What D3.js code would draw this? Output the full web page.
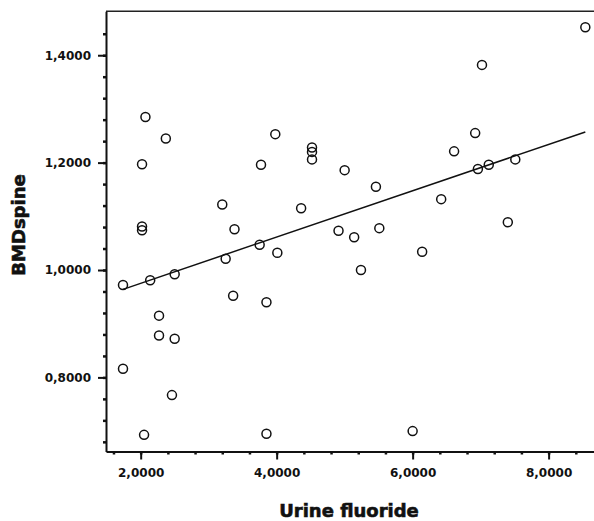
<!DOCTYPE html>
<meta charset="utf-8">
<style>
body { margin: 0; background: #fff; }
svg { display: block; }
.tick text { font-family: "DejaVu Sans", sans-serif; font-weight: bold; font-size: 12px; fill: #111; }
.axis-title { font-family: "DejaVu Sans", sans-serif; font-weight: bold; font-size: 18px; fill: #111; stroke: #111; stroke-width: 0.6px; }
</style>
<svg width="594" height="521"></svg>
<script src="https://d3js.org/d3.v7.min.js"></script>
<script>

// urine fluoride (x) and BMD spine (y)
var fluoride = [1.74, 1.74, 2.14, 2.50, 2.27, 2.27, 2.50, 2.46, 2.05, 2.07, 2.37, 2.02, 2.02, 2.02,
  3.98, 3.77, 4.52, 4.52, 4.52, 5.00, 5.46, 3.20, 4.36, 3.38, 3.75, 3.25, 4.01, 4.91, 5.14, 5.51,
  5.24, 3.36, 3.85, 3.85, 6.00, 6.14, 8.54, 7.02, 6.92, 6.61, 6.96, 7.12, 7.51, 6.42, 7.40];
var bmdSpine = [0.816, 0.972, 0.981, 0.992, 0.915, 0.878, 0.872, 0.767, 0.693, 1.285, 1.245, 1.197, 1.081, 1.074,
  1.253, 1.196, 1.228, 1.220, 1.206, 1.186, 1.155, 1.122, 1.115, 1.076, 1.047, 1.021, 1.032, 1.073, 1.061, 1.078,
  1.000, 0.952, 0.940, 0.695, 0.700, 1.034, 1.452, 1.382, 1.255, 1.221, 1.188, 1.196, 1.206, 1.132, 1.089];

// fitted line, as drawn
var fitIntercept = 0.889;
var fitSlope = 0.0431;

var xMajor = [2, 4, 6, 8];
var yMajor = [0.8, 1.0, 1.2, 1.4];
var xMinorStep = 0.4, yMinorStep = 0.04;

var svg = d3.select("svg");

var x = d3.scaleLinear().domain([1.49, 8.8]).range([106, 603]);
var y = d3.scaleLinear().domain([0.662, 1.482]).range([451.5, 11.2]);

var fmt = d3.formatLocale({decimal: ",", thousands: ".", grouping: [3], currency: ["", ""]}).format(".4f");

var xMinor = d3.range(1.6, 8.5, xMinorStep);
var yMinor = d3.range(0.68, 1.45, yMinorStep);

// frame on top
svg.append("line")
    .attr("x1", x.range()[0]).attr("x2", 594)
    .attr("y1", y(1.482)).attr("y2", y(1.482))
    .attr("stroke", "#222").attr("stroke-width", 1.5);

// minor ticks
svg.append("g")
    .attr("transform", "translate(0," + y.range()[0] + ")")
    .call(d3.axisBottom(x).tickValues(xMinor).tickSize(3).tickFormat(""))
    .call(function(g) { g.select(".domain").remove(); })
    .selectAll("line").attr("stroke", "#111").attr("stroke-width", 2.5);

svg.append("g")
    .attr("transform", "translate(" + x.range()[0] + ",0)")
    .call(d3.axisLeft(y).tickValues(yMinor).tickSize(3).tickFormat(""))
    .call(function(g) { g.select(".domain").remove(); })
    .selectAll("line").attr("stroke", "#111").attr("stroke-width", 2.5);

// major ticks + labels
var xAxis = svg.append("g")
    .attr("transform", "translate(0," + y.range()[0] + ")")
    .call(d3.axisBottom(x).tickValues(xMajor).tickSize(8).tickSizeOuter(0).tickPadding(9).tickFormat(fmt));
xAxis.select(".domain").attr("stroke", "#111").attr("stroke-width", 2);
xAxis.selectAll("line").attr("stroke", "#111").attr("stroke-width", 2);

var yAxis = svg.append("g")
    .attr("transform", "translate(" + x.range()[0] + ",0)")
    .call(d3.axisLeft(y).tickValues(yMajor).tickSize(8).tickSizeOuter(0).tickPadding(7).tickFormat(fmt));
yAxis.select(".domain").attr("stroke", "#111").attr("stroke-width", 2);
yAxis.selectAll("line").attr("stroke", "#111").attr("stroke-width", 2);

// regression line over the range of the data
var xExt = d3.extent(fluoride);
svg.append("line")
    .attr("x1", x(xExt[0])).attr("y1", y(fitIntercept + fitSlope * xExt[0]))
    .attr("x2", x(xExt[1])).attr("y2", y(fitIntercept + fitSlope * xExt[1]))
    .attr("stroke", "#111").attr("stroke-width", 1.5);

// points
svg.append("g")
  .selectAll("circle")
  .data(fluoride)
  .enter().append("circle")
    .attr("cx", function(d) { return x(d); })
    .attr("cy", function(d, i) { return y(bmdSpine[i]); })
    .attr("r", 4.5)
    .attr("fill", "none")
    .attr("stroke", "#111")
    .attr("stroke-width", 1.5);

// titles
svg.append("text")
    .attr("class", "axis-title")
    .attr("x", 349).attr("y", 517)
    .attr("text-anchor", "middle")
    .text("Urine fluoride");

svg.append("text")
    .attr("class", "axis-title")
    .attr("transform", "translate(25,225) rotate(-90)")
    .attr("text-anchor", "middle")
    .text("BMDspine");

</script>
